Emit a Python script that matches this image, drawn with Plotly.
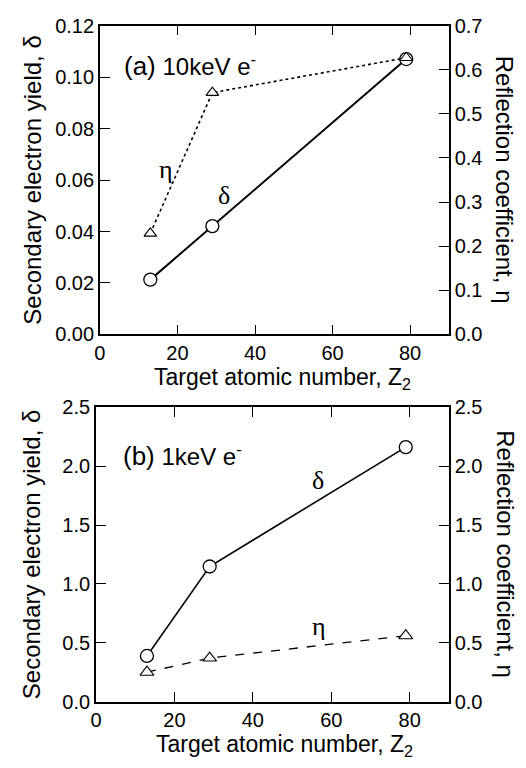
import plotly.graph_objects as go

# Data
z = [13, 29, 79]
delta_10kev = [0.0213, 0.0421, 0.107]
eta_10kev = [0.229, 0.548, 0.627]
delta_1kev = [0.388, 1.148, 2.162]
eta_1kev = [0.25, 0.37, 0.56]

W, H = 526, 768
FONT = "Liberation Sans, Arial, sans-serif"
SERIF = "Liberation Serif, Times New Roman, serif"

def px_x(p):
    return p / W

def px_y(p):
    return 1 - p / H

fig = go.Figure()

# top panel
fig.add_trace(go.Scatter(x=z, y=eta_10kev, xaxis="x", yaxis="y2", mode="lines+markers",
                         line=dict(color="black", width=1.6, dash="dot"),
                         marker=dict(symbol="triangle-up", size=11, color="white",
                                     line=dict(color="black", width=1.1)), showlegend=False))
fig.add_trace(go.Scatter(x=z, y=delta_10kev, xaxis="x", yaxis="y", mode="lines+markers",
                         line=dict(color="black", width=2),
                         marker=dict(symbol="circle", size=13, color="white",
                                     line=dict(color="black", width=1.3)), showlegend=False))
# bottom panel
fig.add_trace(go.Scatter(x=z, y=eta_1kev, xaxis="x2", yaxis="y4", mode="lines+markers",
                         line=dict(color="black", width=1.3, dash="dash"),
                         marker=dict(symbol="triangle-up", size=12, color="white",
                                     line=dict(color="black", width=1.1)), showlegend=False))
fig.add_trace(go.Scatter(x=z, y=delta_1kev, xaxis="x2", yaxis="y3", mode="lines+markers",
                         line=dict(color="black", width=1.6),
                         marker=dict(symbol="circle", size=13, color="white",
                                     line=dict(color="black", width=1.3)), showlegend=False))

tickfont = dict(family=FONT, size=20, color="black")
common_x = dict(range=[0, 90], tickvals=[0, 20, 40, 60, 80], ticks="inside", ticklen=10,
                tickwidth=1.3, showline=True, linecolor="black", linewidth=1.6, mirror="ticks",
                showgrid=False, zeroline=False, tickfont=tickfont, tickcolor="black")
common_y = dict(ticks="inside", ticklen=10, tickwidth=1.3, showline=True, linecolor="black",
                linewidth=1.6, showgrid=False, zeroline=False, tickfont=tickfont, tickcolor="black")

top_dom = [px_y(333), px_y(15)]
bot_dom = [px_y(711), px_y(408)]

fig.update_layout(
    width=W, height=H, margin=dict(l=0, r=0, t=0, b=0),
    paper_bgcolor="white", plot_bgcolor="white",
    xaxis=dict(domain=[px_x(95), px_x(448)], anchor="y", **common_x),
    yaxis=dict(domain=top_dom, anchor="x", range=[0, 0.12], tickvals=[0, 0.02, 0.04, 0.06, 0.08, 0.10, 0.12],
               tickformat=".2f", side="left", **common_y),
    yaxis2=dict(overlaying="y", anchor="x", side="right", range=[0, 0.7],
                tickvals=[0, 0.1, 0.2, 0.3, 0.4, 0.5, 0.6, 0.7], tickformat=".1f", **common_y),
    xaxis2=dict(domain=[px_x(91), px_x(448)], anchor="y3", **common_x),
    yaxis3=dict(domain=bot_dom, anchor="x2", range=[0, 2.5], tickvals=[0, 0.5, 1.0, 1.5, 2.0, 2.5],
                tickformat=".1f", side="left", **common_y),
    yaxis4=dict(overlaying="y3", anchor="x2", side="right", range=[0, 2.5],
                tickvals=[0, 0.5, 1.0, 1.5, 2.0, 2.5], tickformat=".1f", **common_y),
)

title_font = dict(family=FONT, size=24, color="black")
xtitle_font = dict(family=FONT, size=23, color="black")
annots = []
# axis titles
for yc in [(15 + 333) / 2, (408 + 711) / 2]:
    annots.append(dict(text="Secondary electron yield, δ", x=px_x(26), y=px_y(yc), xref="paper", yref="paper",
                       textangle=-90, showarrow=False, font=title_font, xanchor="center", yanchor="middle"))
    annots.append(dict(text="Reflection coefficient, η", x=px_x(505), y=px_y(yc), xref="paper", yref="paper",
                       textangle=90, showarrow=False, font=title_font, xanchor="center", yanchor="middle"))
for xc, yc in [(280, 378), (282, 756)]:
    annots.append(dict(text="Target atomic number, Z<sub>2</sub>", x=px_x(xc), y=px_y(yc), xref="paper",
                       yref="paper", showarrow=False, font=xtitle_font, xanchor="center", yanchor="middle"))
# panel labels
annots.append(dict(text="(a)<span style='font-size:24px'> 10keV e<sup>-</sup></span>", x=px_x(117), y=px_y(56),
                   xref="paper", yref="paper", showarrow=False, xanchor="left", yanchor="middle",
                   font=dict(family=FONT, size=26, color="black")))
annots.append(dict(text="(b)<span style='font-size:24px'> 1keV e<sup>-</sup></span>", x=px_x(116), y=px_y(458),
                   xref="paper", yref="paper", showarrow=False, xanchor="left", yanchor="middle",
                   font=dict(family=FONT, size=26, color="black")))
# series labels
greek = dict(family=SERIF, size=26, color="black")
annots.append(dict(text="η", x=17, y=0.064, xref="x", yref="y", showarrow=False, font=greek))
annots.append(dict(text="δ", x=32, y=0.054, xref="x", yref="y", showarrow=False, font=greek))
annots.append(dict(text="δ", x=56.5, y=1.88, xref="x2", yref="y3", showarrow=False, font=greek))
annots.append(dict(text="η", x=57, y=0.64, xref="x2", yref="y3", showarrow=False, font=greek))

fig.update_layout(annotations=annots)
fig.write_html("out.html")
